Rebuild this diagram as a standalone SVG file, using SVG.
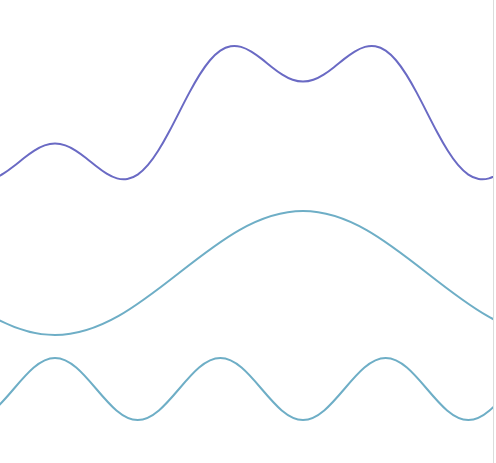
<svg xmlns="http://www.w3.org/2000/svg" width="496" height="463" viewBox="0 0 496 463">
<style>
.wave{fill:none;stroke-width:2;stroke-linecap:round;stroke-linejoin:round}
.sum{stroke:#6a6ac4}
.part{stroke:#6eaec6}
</style>
<defs>
<clipPath id="plot"><rect x="0" y="0" width="493" height="463"/></clipPath>
</defs>
<rect x="0" y="0" width="496" height="463" fill="#ffffff"/>
<g id="curves" clip-path="url(#plot)">
<path id="sum-wave" class="wave sum" d="M -7 178.36 C -3.56 177.40 -0.11 175.75 3.33 173.65 S 10.23 169.00 13.67 166.29 S 20.56 160.73 24 158.02 S 30.89 152.74 34.33 150.57 S 41.23 146.63 44.67 145.43 S 51.56 143.6 55 143.6 S 61.89 144.23 65.33 145.43 S 72.23 148.40 75.67 150.57 S 82.56 155.31 86 158.02 S 92.89 163.59 96.33 166.29 S 103.23 171.55 106.67 173.65 S 113.56 177.40 117 178.36 S 123.89 179.58 127.33 178.99 S 134.23 176.94 137.67 174.6 S 144.56 169.02 148 164.97 S 154.89 156.05 158.33 150.57 S 165.23 138.98 168.67 132.55 S 175.56 119.36 179 112.6 S 185.89 99.08 189.33 92.65 S 196.23 80.11 199.67 74.63 S 206.56 64.28 210 60.23 S 216.89 52.94 220.33 50.6 S 227.23 46.80 230.67 46.21 S 237.56 45.88 241 46.84 S 247.89 49.45 251.33 51.55 S 258.23 56.21 261.67 58.91 S 268.56 64.47 272 67.18 S 278.89 72.46 282.33 74.63 S 289.23 78.57 292.67 79.77 S 299.56 81.6 303 81.6 S 309.89 80.97 313.33 79.77 S 320.23 76.80 323.67 74.63 S 330.56 69.89 334 67.18 S 340.89 61.62 344.33 58.91 S 351.23 53.65 354.67 51.55 S 361.56 47.80 365 46.84 S 371.89 45.62 375.33 46.21 S 382.23 48.26 385.67 50.6 S 392.56 56.18 396 60.23 S 402.89 69.15 406.33 74.63 S 413.23 86.22 416.67 92.65 S 423.56 105.84 427 112.6 S 433.89 126.12 437.33 132.55 S 444.23 145.09 447.67 150.57 S 454.56 160.92 458 164.97 S 464.89 172.26 468.33 174.6 S 475.23 178.40 478.67 178.99 S 485.56 179.32 489 178.36 S 495.89 175.75 499.33 173.65"/>
<path id="slow-wave" class="wave part" d="M -69 273 C -28.56 304.76 10.12 335 55 335 S 138.56 304.76 179 273 S 258.12 211 303 211 S 386.56 241.24 427 273 S 506.12 335 551 335"/>
<path id="fast-wave" class="wave part" d="M -27.67 420 C -12.71 420 0.18 404.88 13.67 389 S 40.04 358 55 358 S 82.85 373.12 96.33 389 S 122.71 420 137.67 420 S 165.52 404.88 179 389 S 205.37 358 220.33 358 S 248.19 373.12 261.67 389 S 288.04 420 303 420 S 330.85 404.88 344.33 389 S 370.71 358 385.67 358 S 413.52 373.12 427 389 S 453.37 420 468.33 420 S 496.19 404.88 509.67 389"/>
</g>
<line id="edge" x1="493.5" y1="0" x2="493.5" y2="463" stroke="#dcdcdc" stroke-width="1"/>
</svg>
